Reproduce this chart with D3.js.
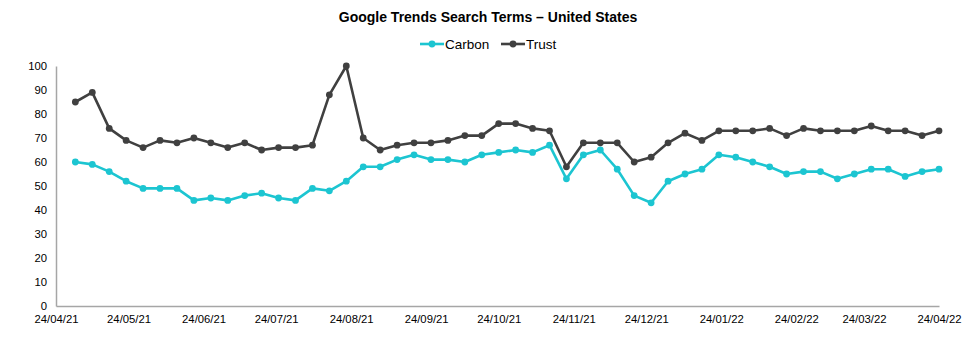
<!DOCTYPE html>
<html>
<head>
<meta charset="utf-8">
<script src="https://cdn.jsdelivr.net/npm/d3@7"></script>
<style>
  body { margin: 0; background: #ffffff; }
  text { font-family: "Liberation Sans", Arial, sans-serif; }
</style>
</head>
<body>
<div id="graph_here"></div>
<script>
// weekly google trends points (week starting sunday)
var weeks = [
  "2021-05-02","2021-05-09","2021-05-16","2021-05-23","2021-05-30",
  "2021-06-06","2021-06-13","2021-06-20","2021-06-27",
  "2021-07-04","2021-07-11","2021-07-18","2021-07-25",
  "2021-08-01","2021-08-08","2021-08-15","2021-08-22","2021-08-29",
  "2021-09-05","2021-09-12","2021-09-19","2021-09-26",
  "2021-10-03","2021-10-10","2021-10-17","2021-10-24","2021-10-31",
  "2021-11-07","2021-11-14","2021-11-21","2021-11-28",
  "2021-12-05","2021-12-12","2021-12-19","2021-12-26",
  "2022-01-02","2022-01-09","2022-01-16","2022-01-23","2022-01-30",
  "2022-02-06","2022-02-13","2022-02-20","2022-02-27",
  "2022-03-06","2022-03-13","2022-03-20","2022-03-27",
  "2022-04-03","2022-04-10","2022-04-17","2022-04-24"
];

var carbon = [60,59,56,52,49,49,49,44,45,44,46,47,45,44,49,48,52,
              58,58,61,63,61,61,60,63,64,65,64,67,53,63,65,57,46,43,
              52,55,57,63,62,60,58,55,56,56,53,55,57,57,54,56,57];

var trust = [85,89,74,69,66,69,68,70,68,66,68,65,66,66,67,88,100,
             70,65,67,68,68,69,71,71,76,76,74,73,58,68,68,68,60,62,
             68,72,69,73,73,73,74,71,74,73,73,73,75,73,73,71,73];

var tickDates = ["2021-04-24","2021-05-24","2021-06-24","2021-07-24","2021-08-24",
                 "2021-09-24","2021-10-24","2021-11-24","2021-12-24","2022-01-24",
                 "2022-02-24","2022-03-24","2022-04-24"];
var yTicks = [0,10,20,30,40,50,60,70,80,90,100];

var seriesNames = ["Carbon", "Trust"];
var seriesColors = ["#1cc5d1", "#404040"];

function drawline(){
    const width = 974;
    const height = 337;
    const left = 56, right = 939, top = 66, bottom = 306;

    var parse = d3.timeParse("%Y-%m-%d");
    var fmt = d3.timeFormat("%d/%m/%y");

    var svg = d3.select('#graph_here')
        .append('svg')
        .attr("width", width)
        .attr("height", height);

    const xScale = d3.scaleTime()
        .domain([parse(tickDates[0]), parse(tickDates[tickDates.length-1])])
        .range([left, right]);
    const yScale = d3.scaleLinear().domain([0, 100]).range([bottom, top]);

    // axes - no tick marks, grey lines
    const xAxis = d3.axisBottom(xScale)
        .tickValues(tickDates.map(parse))
        .tickFormat(fmt)
        .tickSize(0)
        .tickPadding(9);
    const yAxis = d3.axisLeft(yScale)
        .tickValues(yTicks)
        .tickSize(0)
        .tickPadding(9);

    var gx = svg.append("g")
        .attr("transform", "translate(0," + bottom + ")")
        .call(xAxis);
    var gy = svg.append("g")
        .attr("transform", "translate(" + left + ",0)")
        .call(yAxis);

    [gx, gy].forEach(function(g){
        g.select(".domain").attr("stroke", "#a6a6a6").attr("stroke-width", 1.5);
        g.selectAll("text")
            .attr("fill", "#000")
            .style("font-size", "11.3px")
            .style("font-family", "'Liberation Sans', Arial, sans-serif");
    });

    var data = [carbon, trust];

    const line = d3.line()
        .x(function(d, i) { return xScale(parse(weeks[i])); })
        .y(function(d) { return yScale(d); });

    // draw trust behind? carbon first then trust, as in excel order
    data.forEach(function(vals, k){
        var g = svg.append("g");
        g.append("path")
            .attr("d", line(vals))
            .attr("fill", "none")
            .attr("stroke", seriesColors[k])
            .attr("stroke-width", 2.6)
            .attr("stroke-linejoin", "round");
        g.selectAll("circle")
            .data(vals)
            .enter()
            .append("circle")
            .attr("cx", function(d, i){ return xScale(parse(weeks[i])); })
            .attr("cy", function(d){ return yScale(d); })
            .attr("r", 3.4)
            .attr("fill", seriesColors[k]);
    });

    // title
    svg.append("text")
        .attr("x", 488)
        .attr("y", 22)
        .attr("text-anchor", "middle")
        .style("font-size", "14px")
        .style("font-weight", "bold")
        .text("Google Trends Search Terms \u2013 United States");

    // legend
    var legendX = [420, 501];
    var legend = svg.selectAll(".legend")
        .data(seriesNames)
        .enter()
        .append("g")
        .attr("transform", function(d, i){ return "translate(" + legendX[i] + ",44)"; });
    legend.append("line")
        .attr("x1", 0).attr("x2", 24)
        .attr("y1", 0).attr("y2", 0)
        .attr("stroke", function(d, i){ return seriesColors[i]; })
        .attr("stroke-width", 2.6);
    legend.append("circle")
        .attr("cx", 12).attr("cy", 0).attr("r", 3.4)
        .attr("fill", function(d, i){ return seriesColors[i]; });
    legend.append("text")
        .attr("x", 25)
        .attr("y", 5)
        .style("font-size", "13.5px")
        .text(function(d){ return d; });
}

window.addEventListener('load', drawline);
</script>
</body>
</html>
